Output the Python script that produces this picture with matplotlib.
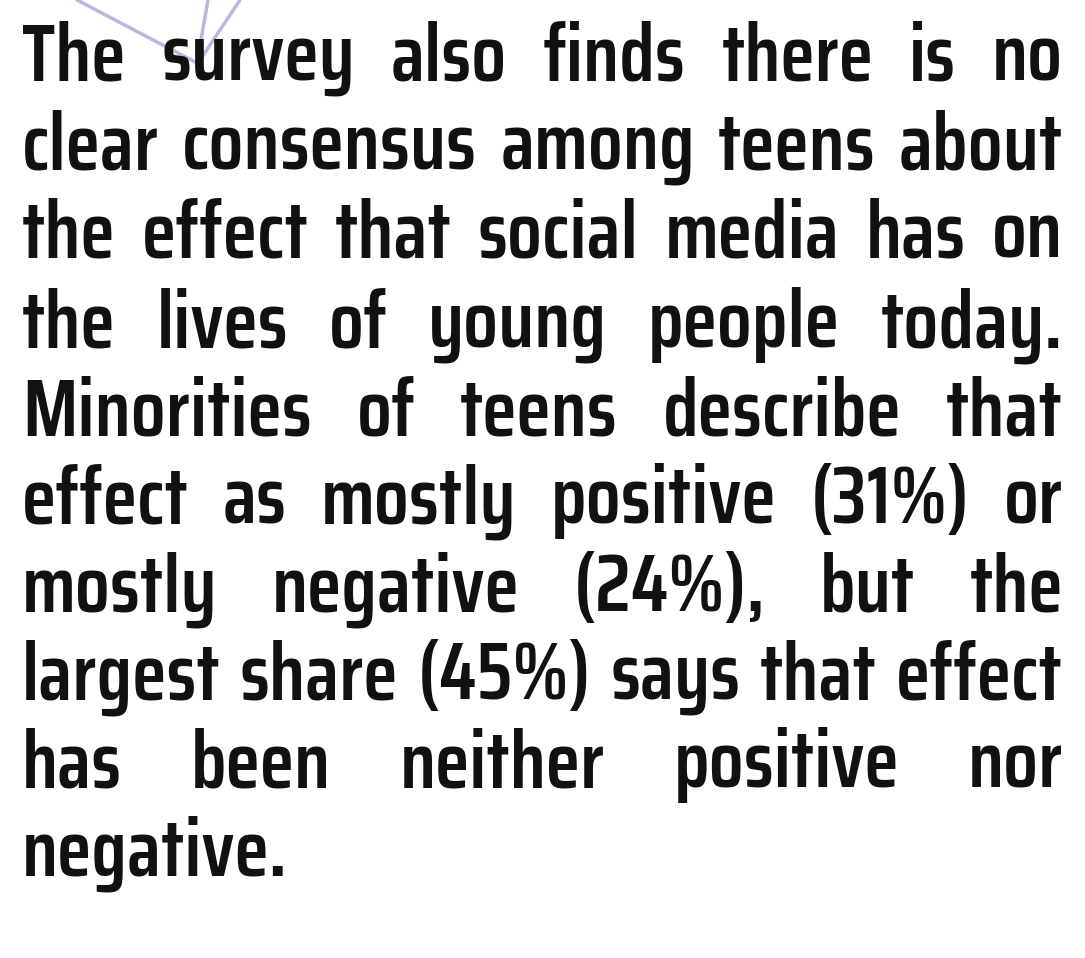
import matplotlib
matplotlib.use("Agg")
import matplotlib.pyplot as plt
from matplotlib import font_manager
from matplotlib.textpath import TextPath
from matplotlib.font_manager import FontProperties

# text of the paragraph, one entry per printed line
lines = [
    "The survey also finds there is no",
    "clear consensus among teens about",
    "the effect that social media has on",
    "the lives of young people today.",
    "Minorities of teens describe that",
    "effect as mostly positive (31%) or",
    "mostly negative (24%), but the",
    "largest share (45%) says that effect",
    "has been neither positive nor",
    "negative.",
]
baselines = [80, 169, 258, 347, 435, 523, 611, 699, 787, 876]

# faint purple strokes poking in at the top
strokes_x = [[77, 197], [208, 197], [240, 200]]
strokes_y = [[0, 63], [0, 63], [0, 60]]

left, right = 22, 1063
cap_px = 62
W, H = 1085, 958

# pick a condensed squarish face if we have one
prefs = ["Saira Condensed", "Saira Extra Condensed", "Saira ExtraCondensed",
         "Teko", "Oswald", "Liberation Sans Narrow", "DejaVu Sans"]
fam = "DejaVu Sans"
have = {f.name for f in font_manager.fontManager.ttflist}
for p in prefs:
    if p in have:
        fam = p
        break
fam = [fam, "DejaVu Sans"]
wt = 600

fig = plt.figure(figsize=(W / 100, H / 100), dpi=100)
ax = fig.add_axes([0, 0, 1, 1])
ax.set_xlim(0, W)
ax.set_ylim(H, 0)
ax.axis("off")

for xs, ys in zip(strokes_x, strokes_y):
    ax.plot(xs, ys, color="#b8b8e0", lw=2.5, solid_capstyle="round", zorder=0)

# font size from the cap height of "H"
tp = TextPath((0, 0), "H", size=100, prop=FontProperties(family=fam[0], weight=wt))
ext = tp.get_extents()
cap_ratio = (ext.y1 - max(ext.y0, 0)) / 100
fsize = cap_px / cap_ratio * 72 / 100

renderer = fig.canvas.get_renderer()


def width(s, size):
    t = ax.text(0, 0, s, fontsize=size, family=fam, weight=wt)
    bb = t.get_window_extent(renderer)
    t.remove()
    return bb.width


# shrink font until the widest line fits
while max(width(l, fsize) for l in lines) > right - left - 20:
    fsize -= 0.5

for i, (line, y) in enumerate(zip(lines, baselines)):
    words = line.split(" ")
    ws = [width(w, fsize) for w in words]
    if i == len(lines) - 1 or len(words) == 1:
        gap = width(" ", fsize)
    else:
        gap = (right - left - sum(ws)) / (len(words) - 1)
    x = left
    for w, wd in zip(words, ws):
        ax.text(x, y, w, fontsize=fsize, family=fam, weight=wt,
                ha="left", va="baseline", color="#111111")
        x += wd + gap

fig.savefig("out.png", dpi=100, facecolor="white")
